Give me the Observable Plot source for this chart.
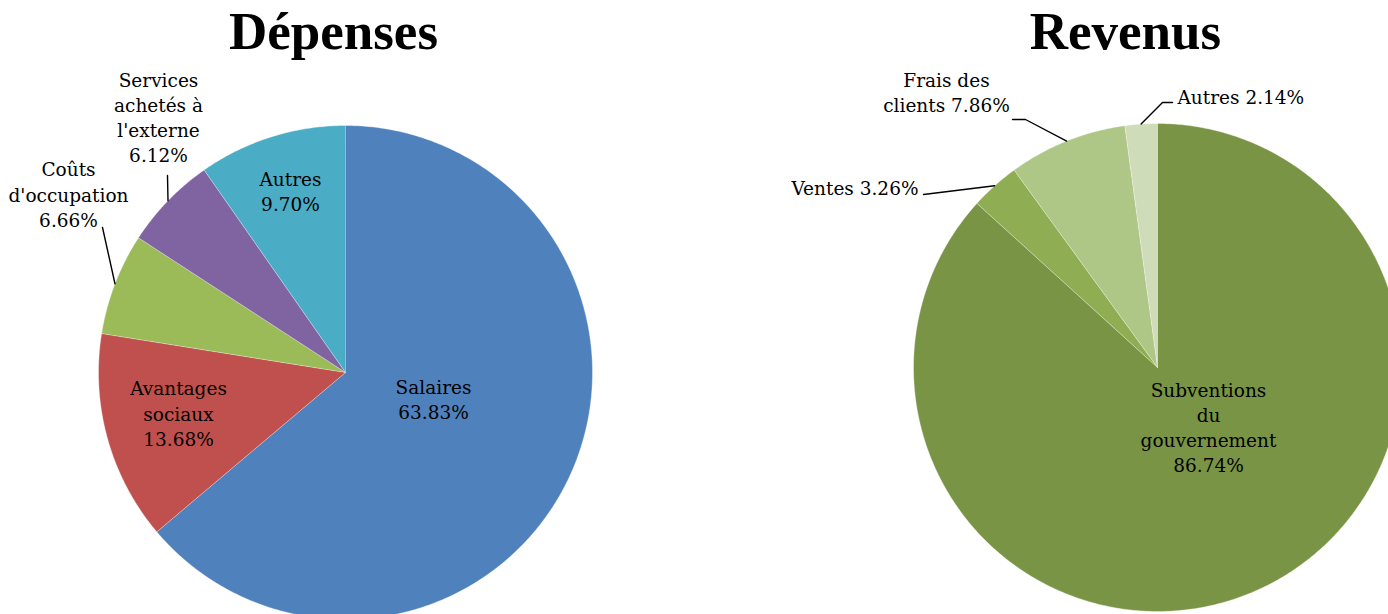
<!DOCTYPE html>
<html>
<head>
<meta charset="utf-8">
<script src="https://cdn.jsdelivr.net/npm/d3@7"></script>
<script src="https://cdn.jsdelivr.net/npm/@observablehq/plot@0.6"></script>
<style>
  html, body { margin: 0; padding: 0; background: #fff; }
  #chart svg { display: block; }
</style>
</head>
<body>
<div id="chart"></div>
<script>
// ---- Data ----
const titles = ["Dépenses", "Revenus"];
const depCategories = ["Salaires", "Avantages sociaux", "Coûts d'occupation", "Services achetés à l'externe", "Autres"];
const depValues = [63.83, 13.68, 6.66, 6.12, 9.70];
const revCategories = ["Subventions du gouvernement", "Ventes", "Frais des clients", "Autres"];
const revValues = [86.74, 3.26, 7.86, 2.14];

// ---- Styles / layout ----
const depColors = ["#4F81BD", "#C0504D", "#9BBB59", "#8064A2", "#4BACC6"];
const revColors = ["#7A9445", "#8FAE53", "#AEC686", "#CEDCB9"];
const W = 1388, H = 614;
const FONT = "DejaVu Serif";

const pieLayout = [
  {cx: 345, cy: 372, r: 247, titleDx: -12, titleY: 32},
  {cx: 1157, cy: 367, r: 244, titleDx: -32, titleY: 32}
];

// label placement relative to pie centre; {v} is replaced by the formatted value
const labelLayout = [
  {
    "Salaires": {dx: 88, dy: 26, anchor: "middle", lines: ["Salaires", "{v}"]},
    "Avantages sociaux": {dx: -167, dy: 40, anchor: "middle", lines: ["Avantages", "sociaux", "{v}"]},
    "Coûts d'occupation": {dx: -277, dy: -179, anchor: "middle", lines: ["Coûts", "d'occupation", "{v}"], leader: [[-243, -145]]},
    "Services achetés à l'externe": {dx: -187, dy: -256, anchor: "middle", lines: ["Services", "achetés à", "l'externe", "{v}"], leader: [[-178, -197]]},
    "Autres": {dx: -55, dy: -182, anchor: "middle", lines: ["Autres", "{v}"]}
  },
  {
    "Subventions du gouvernement": {dx: 51, dy: 59, anchor: "middle", lines: ["Subventions", "du", "gouvernement", "{v}"]},
    "Ventes": {dx: -239, dy: -181, anchor: "end", lines: ["Ventes {v}"], leader: [[-234, -173]]},
    "Frais des clients": {dx: -211, dy: -276, anchor: "middle", lines: ["Frais des", "clients {v}"], leader: [[-145, -248], [-132, -248]]},
    "Autres": {dx: 20, dy: -272, anchor: "start", lines: ["Autres {v}"], leader: [[15, -265], [5, -265]]}
  }
];

const series = [
  {title: titles[0], categories: depCategories, values: depValues, colors: depColors},
  {title: titles[1], categories: revCategories, values: revValues, colors: revColors}
];

// ---- Geometry derived from data ----
const wedges = [];
const labels = [];
const leaders = [];
const titleRows = [];

series.forEach((s, pi) => {
  const L = pieLayout[pi];
  const rows = s.categories.map((c, i) => ({category: c, value: s.values[i], color: s.colors[i]}));
  const arcs = d3.pie().sort(null).value(d => d.value).startAngle(0).endAngle(2 * Math.PI)(rows);
  const pt = (a, r) => ({x: L.cx + r * Math.sin(a), y: L.cy - r * Math.cos(a)});
  titleRows.push({text: s.title, x: L.cx + L.titleDx, y: L.titleY});
  arcs.forEach((a, i) => {
    const key = pi + "-" + i;
    const n = Math.max(2, Math.ceil((a.endAngle - a.startAngle) / (Math.PI / 360)));
    wedges.push({key, color: a.data.color, ...pt(0, 0)});
    for (let k = 0; k <= n; k++) {
      const ang = a.startAngle + (a.endAngle - a.startAngle) * k / n;
      wedges.push({key, color: a.data.color, ...pt(ang, L.r)});
    }
    const lay = labelLayout[pi][a.data.category];
    const vtxt = a.data.value.toFixed(2) + "%";
    labels.push({
      text: lay.lines.map(l => l.replace("{v}", vtxt)).join("\n"),
      x: L.cx + lay.dx, y: L.cy + lay.dy, anchor: lay.anchor
    });
    if (lay.leader) {
      lay.leader.forEach(([dx, dy]) => leaders.push({key, x: L.cx + dx, y: L.cy + dy}));
      const mid = (a.startAngle + a.endAngle) / 2;
      leaders.push({key, ...pt(mid, L.r)});
    }
  });
});

const textMark = (anchor) => Plot.text(labels.filter(d => d.anchor === anchor), {
  x: "x", y: "y", text: "text", textAnchor: anchor, lineAnchor: "middle",
  lineHeight: 1.36, fontSize: 18.5, fontFamily: FONT, fill: "#000"
});

const chart = Plot.plot({
  width: W, height: H,
  margin: 0,
  x: {domain: [0, W], range: [0, W], axis: null},
  y: {domain: [0, H], range: [0, H], axis: null},
  color: {type: "identity"},
  style: {background: "#fff", overflow: "hidden"},
  marks: [
    Plot.line(wedges, {x: "x", y: "y", z: "key", fill: "color", stroke: "#fff", strokeOpacity: 0.45, strokeWidth: 0.8, strokeLinejoin: "round"}),
    Plot.line(leaders, {x: "x", y: "y", z: "key", stroke: "#000", strokeWidth: 1.4}),
    textMark("middle"),
    textMark("start"),
    textMark("end"),
    Plot.text(titleRows, {x: "x", y: "y", text: "text", textAnchor: "middle", lineAnchor: "middle",
      fontSize: 53, fontWeight: "bold", fontFamily: "Liberation Serif", fill: "#000"})
  ]
});
document.getElementById("chart").appendChild(chart);
</script>
</body>
</html>
